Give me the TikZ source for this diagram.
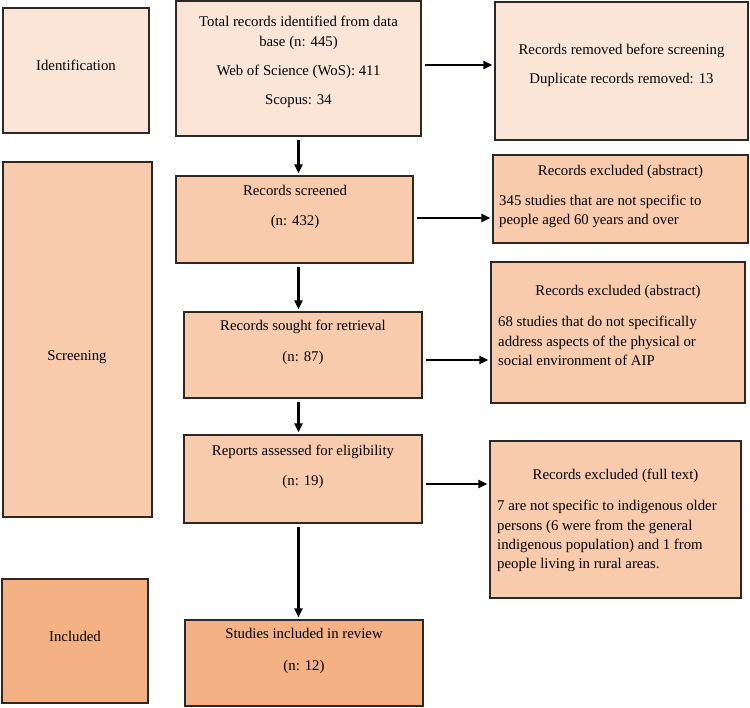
\documentclass[tikz,border=0pt]{standalone}
\usepackage{fontspec}
\setmainfont{Liberation Serif}
\usepackage{tikz}
\usetikzlibrary{calc,arrows.meta}
\usetikzlibrary{fit}
\usetikzlibrary{positioning}

\definecolor{peachA}{HTML}{FBE5D6}
\definecolor{peachB}{HTML}{F8CBAD}
\definecolor{peachC}{HTML}{F4B183}
\definecolor{boxline}{HTML}{2E2824}

\tikzset{box/.style={draw=boxline, line width=1.2pt, inner sep=0pt},
txt/.style={font=\fontsize{14.8}{20}\selectfont, align=center, inner sep=0pt},
body/.style={font=\fontsize{14.8}{19.2}\selectfont, align=left, anchor=west, inner sep=0pt},
arr/.style={line width=2.1pt, -{Triangle[length=9pt,width=8pt]}, shorten <=3pt, shorten >=2pt}}

\begin{document}
\begin{tikzpicture}[x = 1pt, y = -1pt]
\useasboundingbox (0,0) rectangle (750,708);

%stages
\node[box, fill=peachA, fit={(3,8) (149,133)}] (ident) {};
\node[box, fill=peachB, fit={(3,162) (152,517)}] (scrn) {};
\node[box, fill=peachC, fit={(2,579) (148,703)}] (incl) {};
\path (76,65) node[txt] (identT) {Identification};
\path (77,357) node[txt] (scrnT) {Screening};
\path (75,636) node[txt] (inclT) {Included};

%middle column
\node[box, fill=peachA, fit={(176,1) (421,136)}] (tot) {};
\node[box, fill=peachB, fit={(176,176) (413,263)}] (scr) {};
\node[box, fill=peachB, fit={(184,312) (422,398)}] (sgt) {};
\node[box, fill=peachB, fit={(184,435) (422,523)}] (rep) {};
\node[box, fill=peachC, fit={(185,620) (423,706)}] (stu) {};
\path (298.5,62) node[txt] (totT) {Total records identified from data\\base (n: 445)\\[9pt]Web of Science (WoS): 411\\[9pt]Scopus: 34};
\path (295,207) node[txt] (scrT) {Records screened\\[10pt](n: 432)};
\path (303,342.5) node[txt] (sgtT) {Records sought for retrieval\\[11pt](n: 87)};
\path (303,467) node[txt] (repT) {Reports assessed for eligibility\\[10pt](n: 19)};
\path (304,651) node[txt] (stuT) {Studies included in review\\[12pt](n: 12)};

%right column
\node[box, fill=peachA, fit={(495,2) (748,140)}] (rem) {};
\node[box, fill=peachB, fit={(493,155) (748,243)}] (ex1) {};
\node[box, fill=peachB, fit={(491,262) (745,403)}] (ex2) {};
\node[box, fill=peachB, fit={(490,441) (741,598)}] (exf) {};
\path (621.5,65.5) node[txt] (remT) {Records removed before screening\\[9pt]Duplicate records removed: 13};
\path (620.5,172) node[txt] (ex1T) {Records excluded (abstract)};
\path (499,211) node[body] (ex1B) {345 studies that are not specific to\\people aged 60 years and over};
\path (618,292) node[txt] (ex2T) {Records excluded (abstract)};
\path (498,341) node[body] (ex2B) {68 studies that do not specifically\\address aspects of the physical or\\social environment of AIP};
\path (615.5,476) node[txt] (exfT) {Records excluded (full text)};
\path (497,536) node[body] (exfB) {7 are not specific to indigenous older\\persons (6 were from the general\\indigenous population) and 1 from\\people living in rural areas.};

%arrows
\foreach \a/\b in {tot/scr, scr/sgt, sgt/rep, rep/stu} {\draw[arr] (tot.south |- \a.south) -- (tot.south |- \b.north);}
\foreach \a/\b/\s in {tot/rem/3.5, scr/ex1/1.5, sgt/ex2/-5, rep/exf/-5} {\draw[arr] ([yshift=\s pt]\a.east) -- ([yshift=\s pt]\a.east -| \b.west);}

\end{tikzpicture}
\end{document}
